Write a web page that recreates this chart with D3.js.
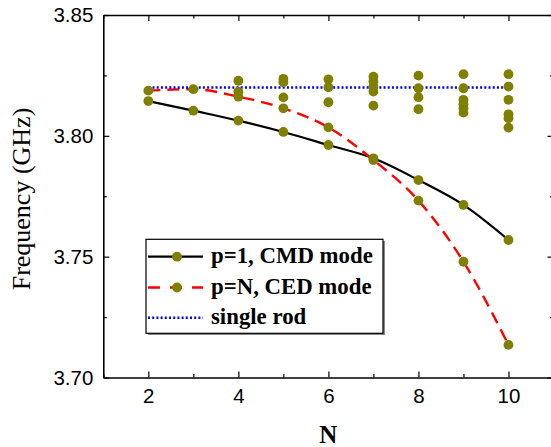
<!DOCTYPE html>
<html>
<head>
<meta charset="utf-8">
<script src="https://cdn.jsdelivr.net/npm/d3@7"></script>
<style>
  html, body { margin: 0; padding: 0; background: #fff; }
  svg { display: block; }
</style>
</head>
<body>
<svg id="chart" width="551" height="447"></svg>
<script>
// Number of rods in the array
const N = [2, 3, 4, 5, 6, 7, 8, 9, 10];
// p = 1 collective magnetic dipole mode (GHz)
const cmdMode = [3.8144, 3.8104, 3.8063, 3.8016, 3.7962, 3.7907, 3.7817, 3.7714, 3.7569];
// p = N collective electric dipole mode (GHz)
const cedMode = [3.8187, 3.8193, 3.8162, 3.8114, 3.8035, 3.7900, 3.7732, 3.7479, 3.7135];
// Resonance of a single isolated rod (GHz)
const singleRod = 3.82;
// Remaining eigenmodes for each N (GHz)
const otherModes = [
  [],
  [],
  [3.8228, 3.8183],
  [3.8236, 3.8222, 3.8159],
  [3.8234, 3.8201, 3.8139],
  [3.8245, 3.8226, 3.8204, 3.8183, 3.8125],
  [3.8249, 3.8197, 3.8160, 3.8110],
  [3.8255, 3.8197, 3.8149, 3.8131, 3.8114, 3.8096],
  [3.8255, 3.8204, 3.8149, 3.8089, 3.8073, 3.8034]
];
const xMajor = [2, 4, 6, 8, 10];
const xMinor = [1, 3, 5, 7, 9, 11];
const yMajor = [3.70, 3.75, 3.80, 3.85];
const yMinor = [3.725, 3.775, 3.825];
const legendLabels = ["p=1, CMD mode", "p=N, CED mode", "single rod"];

const svg = d3.select("#chart");
const x = d3.scaleLinear().domain([1, 11]).range([103.3, 553.5]);
const y = d3.scaleLinear().domain([3.70, 3.85]).range([377.5, 15]);

const olive = "#808000";
const sans = "'Liberation Sans', Arial, sans-serif";
const serif = "'Liberation Serif', 'Times New Roman', serif";

// ---- axes (inward ticks on all four sides) ----
function styleAxis(g) {
  g.selectAll(".domain").attr("stroke", "#000").attr("stroke-width", 1.6);
  g.selectAll(".tick line").attr("stroke", "#000").attr("stroke-width", 1.2);
  g.selectAll(".tick text").attr("font-family", sans).attr("font-size", 20.5).attr("fill", "#000");
}

function addAxis(axisFn, transform, majorVals, minorVals, withLabels, fmt, pad) {
  const gMaj = svg.append("g").attr("transform", transform)
    .call(axisFn().tickValues(majorVals).tickSizeInner(-6).tickSizeOuter(0)
      .tickPadding(pad).tickFormat(withLabels ? fmt : ""));
  styleAxis(gMaj);
  svg.append("g").attr("transform", transform)
    .call(axisFn().tickValues(minorVals).tickSize(-3.5).tickFormat(""))
    .call(g => { g.select(".domain").remove(); styleAxis(g); });
}

addAxis(() => d3.axisBottom(x), `translate(0,${y(3.70)})`, xMajor, xMinor, true, d3.format("d"), 10.5);
addAxis(() => d3.axisTop(x), `translate(0,${y(3.85)})`, xMajor, xMinor, false, null, 3);
addAxis(() => d3.axisLeft(y), `translate(${x(1)},0)`, yMajor, yMinor, true, d3.format(".2f"), 10);
addAxis(() => d3.axisRight(y), `translate(${x(11)},0)`, yMajor, yMinor, false, null, 3);

// ---- axis titles ----
svg.append("text")
  .attr("x", x(6)).attr("y", 442.5)
  .attr("text-anchor", "middle")
  .attr("font-family", serif).attr("font-weight", "bold").attr("font-size", 25)
  .text("N");

svg.append("text")
  .attr("transform", `translate(30,199) rotate(-90)`)
  .attr("text-anchor", "middle")
  .attr("font-family", serif).attr("font-size", 26)
  .text("Frequency (GHz)");

// ---- curves ----
const curve = d3.line().x(d => x(d[0])).y(d => y(d[1])).curve(d3.curveMonotoneX);
const cmdPts = N.map((n, i) => [n, cmdMode[i]]);
const cedPts = N.map((n, i) => [n, cedMode[i]]);

svg.append("path").attr("d", curve(cmdPts))
  .attr("fill", "none").attr("stroke", "#000").attr("stroke-width", 2.2);
svg.append("path").attr("d", curve(cedPts))
  .attr("fill", "none").attr("stroke", "#ff0000").attr("stroke-width", 2.4)
  .attr("stroke-dasharray", "12,7");
svg.append("path").attr("d", curve([[N[0], singleRod], [N[N.length - 1], singleRod]]))
  .attr("fill", "none").attr("stroke", "#0000ff").attr("stroke-width", 2.4)
  .attr("stroke-dasharray", "2,2.2");

// ---- markers ----
const allPts = [];
N.forEach((n, i) => otherModes[i].forEach(v => allPts.push([n, v])));
cmdPts.forEach(p => allPts.push(p));
cedPts.forEach(p => allPts.push(p));

svg.append("g").selectAll("circle").data(allPts).join("circle")
  .attr("cx", d => x(d[0])).attr("cy", d => y(d[1]))
  .attr("r", 4.9).attr("fill", olive);

// ---- legend ----
const lg = svg.append("g");
lg.append("rect").attr("x", 148).attr("y", 241).attr("width", 237).attr("height", 94).attr("fill", "#888");
lg.append("rect").attr("x", 146).attr("y", 239.3).attr("width", 237).attr("height", 94)
  .attr("fill", "#fff").attr("stroke", "#000").attr("stroke-width", 1.2);

const rowY = [256.7, 287.5, 317.7];
const styles = [
  { stroke: "#000", dash: null, w: 2.2, dot: true },
  { stroke: "#ff0000", dash: "12,10", w: 2.4, dot: true },
  { stroke: "#0000ff", dash: "2,2.2", w: 2.4, dot: false }
];
legendLabels.forEach((lab, i) => {
  const s = styles[i];
  const ln = lg.append("line").attr("x1", 148).attr("x2", 203).attr("y1", rowY[i]).attr("y2", rowY[i])
    .attr("stroke", s.stroke).attr("stroke-width", s.w);
  if (s.dash) ln.attr("stroke-dasharray", s.dash);
  if (s.dot) lg.append("circle").attr("cx", 177).attr("cy", rowY[i]).attr("r", 4.9).attr("fill", olive);
  lg.append("text").attr("x", 211).attr("y", rowY[i] + 6)
    .attr("font-family", serif).attr("font-weight", "bold").attr("font-size", 22.8)
    .text(lab);
});
</script>
</body>
</html>
